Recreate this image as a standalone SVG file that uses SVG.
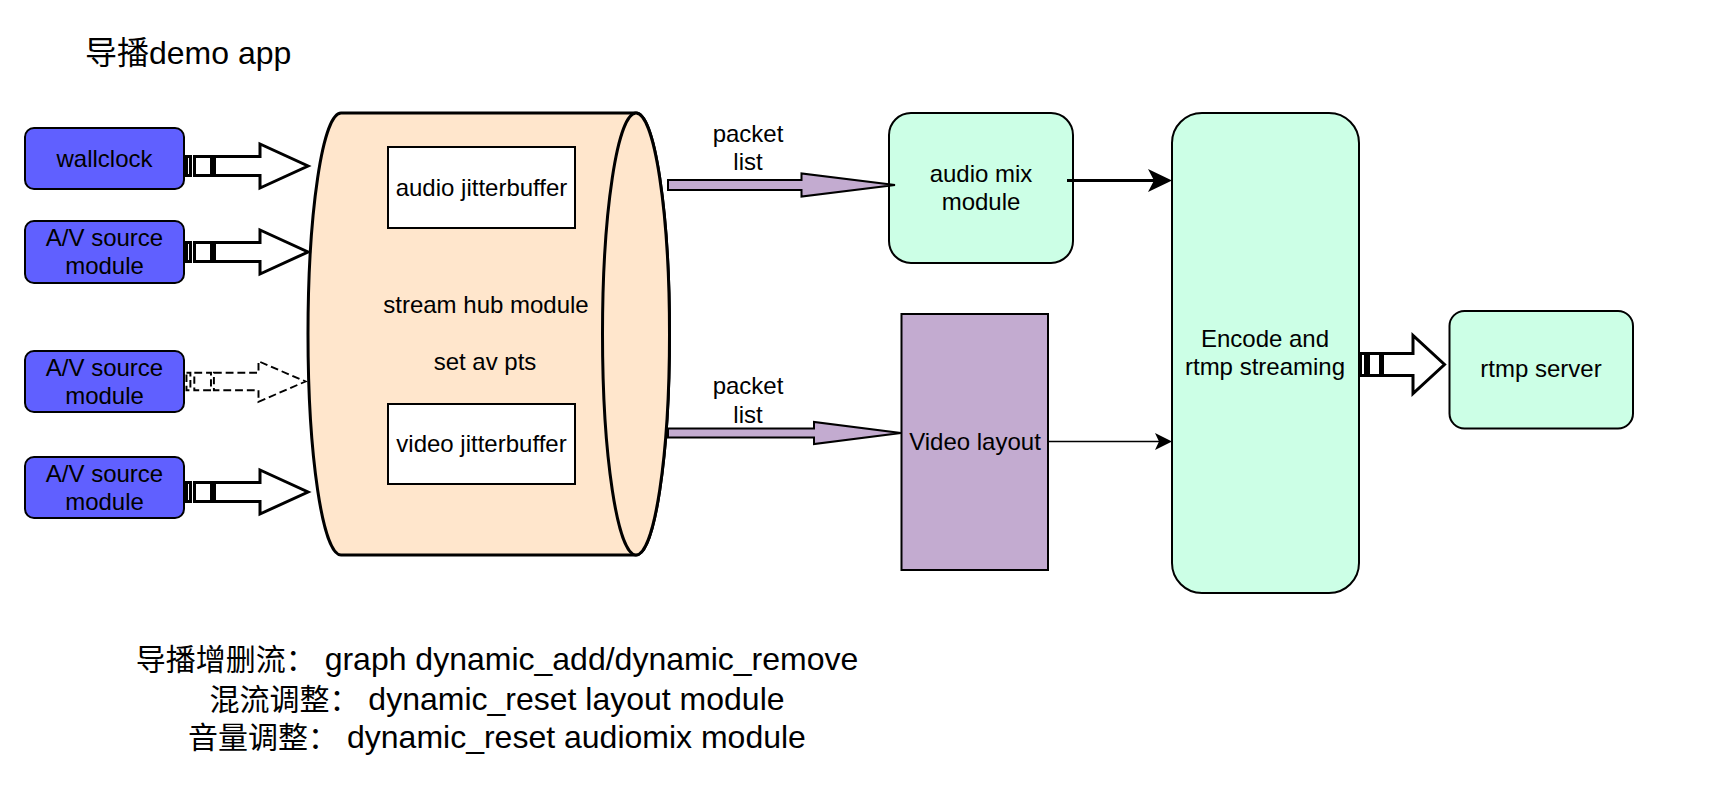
<svg xmlns="http://www.w3.org/2000/svg" xmlns:xlink="http://www.w3.org/1999/xlink" width="1726" height="800" viewBox="0 0 1726 800">
<style>
.t{font-family:'Liberation Sans','Noto Sans CJK SC',sans-serif;font-size:24px;fill:#000;text-anchor:middle}
.big{font-size:32px;text-anchor:start}
.note{font-size:32px}
.cj{font-size:30px}
.blue{fill:#6060FF;stroke:#000;stroke-width:2}
.mint{fill:#CCFFE6;stroke:#000;stroke-width:2}
.purple{fill:#C3ABD0;stroke:#000;stroke-width:2}
.white{fill:#fff;stroke:#000;stroke-width:2}
.hub{fill:#FFE6CC;stroke:#000;stroke-width:3}
.fat{fill:#fff;stroke:#000;stroke-width:3;stroke-linejoin:miter}
.fatdash{fill:#fff;stroke:#000;stroke-width:2;stroke-dasharray:8 4}
.pk{fill:#C3ABD0;stroke:#000;stroke-width:2}
.line3{fill:none;stroke:#000;stroke-width:3}
.line1{fill:none;stroke:#000;stroke-width:1.5}
</style>
<defs>
<g id="fa">
<rect x="1.5" y="-9.5" width="4" height="19"/>
<rect x="9.5" y="-9.5" width="17" height="19"/>
<polygon points="29.5,-9.5 75,-9.5 75,-22 123,0 75,22 75,9.5 29.5,9.5"/>
</g>
<marker id="mThick" markerUnits="userSpaceOnUse" markerWidth="24" markerHeight="23" refX="6" refY="11.5" orient="auto">
<path d="M0,0 L24,11.5 L0,23 L6,11.5 Z" fill="#000"/>
</marker>
<marker id="mThin" markerUnits="userSpaceOnUse" markerWidth="17" markerHeight="17" refX="4" refY="8.5" orient="auto">
<path d="M0,0 L17,8.5 L0,17 L4,8.5 Z" fill="#000"/>
</marker>
</defs>
<rect width="1726" height="800" fill="#fff"/>

<text class="t big" x="85" y="64">导播demo app</text>

<g id="hub">
<path class="hub" d="M341,113 H636 A33.5,221 0 0 1 636,555 H341 A33,221 0 0 1 341,113 Z"/>
<ellipse class="hub" cx="636" cy="334" rx="33.5" ry="221"/>
<text class="t" x="486" y="313">stream hub module</text>
<text class="t" x="485" y="370">set av pts</text>
</g>
<g id="audio-jitter">
<rect class="white" x="388" y="147" width="187" height="81"/>
<text class="t" x="481.5" y="196">audio jitterbuffer</text>
</g>
<g id="video-jitter">
<rect class="white" x="388" y="404" width="187" height="80"/>
<text class="t" x="481.5" y="452">video jitterbuffer</text>
</g>

<g id="wallclock">
<rect class="blue" x="25" y="128" width="159" height="61" rx="9"/>
<text class="t" x="104.5" y="166.5">wallclock</text>
</g>
<g id="av-source-1">
<rect class="blue" x="25" y="221" width="159" height="62" rx="9"/>
<text class="t" x="104.5" y="246">A/V source</text>
<text class="t" x="104.5" y="274">module</text>
</g>
<g id="av-source-2">
<rect class="blue" x="25" y="351" width="159" height="61" rx="9"/>
<text class="t" x="104.5" y="375.5">A/V source</text>
<text class="t" x="104.5" y="403.5">module</text>
</g>
<g id="av-source-3">
<rect class="blue" x="25" y="457" width="159" height="61" rx="9"/>
<text class="t" x="104.5" y="481.5">A/V source</text>
<text class="t" x="104.5" y="509.5">module</text>
</g>

<g id="audio-mix">
<rect class="mint" x="889" y="113" width="184" height="150" rx="22"/>
<text class="t" x="981" y="182">audio mix</text>
<text class="t" x="981" y="210">module</text>
</g>
<g id="video-layout">
<rect class="purple" x="901.5" y="314" width="146.5" height="256"/>
<text class="t" x="975" y="450">Video layout</text>
</g>
<g id="encode">
<rect class="mint" x="1172" y="113" width="187" height="480" rx="30"/>
<text class="t" x="1265" y="346.5">Encode and</text>
<text class="t" x="1265" y="374.5">rtmp streaming</text>
</g>
<g id="rtmp-server">
<rect class="mint" x="1449.5" y="311" width="183.5" height="117.5" rx="15"/>
<text class="t" x="1541" y="377">rtmp server</text>
</g>

<g id="connectors">
<use xlink:href="#fa" class="fat" transform="translate(185,166)"/>
<use xlink:href="#fa" class="fat" transform="translate(185,252)"/>
<use xlink:href="#fa" class="fatdash" transform="translate(185,381.5) scale(0.98,0.92)"/>
<use xlink:href="#fa" class="fat" transform="translate(185,492)"/>

<polygon class="pk" points="668,180 801.5,180 801.5,173.5 895,185 801.5,196.5 801.5,190 668,190"/>
<polygon class="pk" points="668,428.5 814,428.5 814,422 901,433 814,444 814,437.5 668,437.5"/>
<text class="t" x="748" y="142">packet</text>
<text class="t" x="748" y="170">list</text>
<text class="t" x="748" y="394">packet</text>
<text class="t" x="748" y="422.5">list</text>

<line class="line3" x1="1067" y1="180.5" x2="1154" y2="180.5" marker-end="url(#mThick)"/>
<line class="line1" x1="1048" y1="441.5" x2="1159" y2="441.5" marker-end="url(#mThin)"/>

<g class="fat">
<rect x="1360.5" y="353.5" width="5" height="22"/>
<rect x="1368.5" y="353.5" width="12" height="22"/>
<polygon points="1382.5,353.5 1413,353.5 1413,335.5 1444.5,364.5 1413,393.5 1413,375.5 1382.5,375.5"/>
</g>
</g>

<text class="t note" x="497" y="670"><tspan class="cj">导播增删流：</tspan> graph dynamic_add/dynamic_remove</text>
<text class="t note" x="497" y="710"><tspan class="cj">混流调整：</tspan> dynamic_reset layout module</text>
<text class="t note" x="497" y="748"><tspan class="cj">音量调整：</tspan> dynamic_reset audiomix module</text>
</svg>
